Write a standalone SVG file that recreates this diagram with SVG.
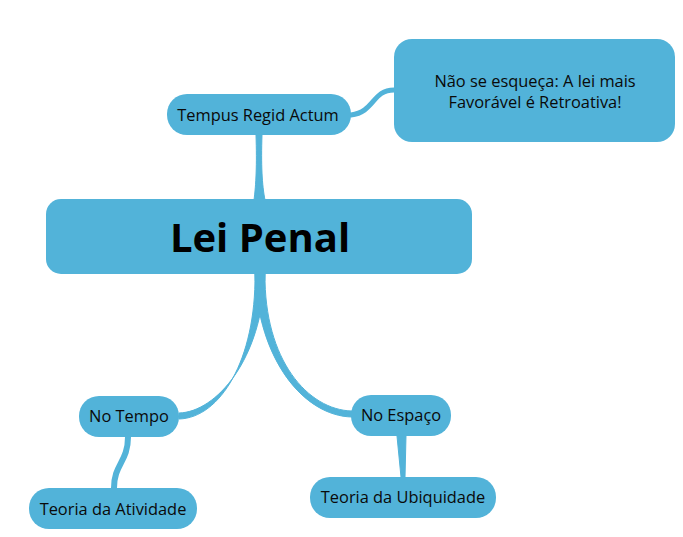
<svg xmlns="http://www.w3.org/2000/svg" width="683" height="537" viewBox="0 0 683 537">
<style>
.n{fill:#52b3d9}
.c{fill:#52b3d9;stroke:#52b3d9;stroke-linecap:round;stroke-linejoin:round}
.s{fill:none;stroke:#52b3d9;stroke-linecap:round}
text{font-family:"Open Sans","Noto Sans",sans-serif;fill:#0a0a0a;text-anchor:middle;font-size:16.4px}
.t{font-size:40px;font-weight:bold;fill:#000}
</style>
<rect width="683" height="537" fill="#fff"/>
<g id="connectors">
<path class="c" stroke-width="1" d="M256,135 C257,165 256,185 254,200 L265,200 C262,185 261,165 262,135 Z"/>
<path class="s" stroke-width="5" d="M351,115 C375,112 372,90 394,90"/>
<path class="c" stroke-width="1" d="M255,274 C256,360 220,418 179,419 L179,413 C216,412 262,360 265,274 Z"/>
<path class="c" stroke-width="1" d="M255,274 C258,360 304,416 352,417 L352,411 C308,410 264,360 265,274 Z"/>
<path class="s" stroke-width="6" d="M128,437 C128,462 114,464 114,488"/>
<path class="c" stroke-width="1" d="M397,436 L401,477 L405,477 L406,436 Z"/>
</g>
<g id="note">
<rect class="n" x="394" y="39" width="281" height="103" rx="18"/>
<text x="535" y="87">Não se esqueça: A lei mais</text>
<text x="535" y="108">Favorável é Retroativa!</text>
</g>
<g id="tempus">
<rect class="n" x="167" y="94" width="184" height="41" rx="20"/>
<text x="258" y="121">Tempus Regid Actum</text>
</g>
<g id="lei-penal">
<rect class="n" x="46" y="199" width="426" height="75" rx="15"/>
<text class="t" x="260" y="252">Lei Penal</text>
</g>
<g id="no-tempo">
<rect class="n" x="79" y="396" width="100" height="41" rx="20"/>
<text x="129" y="422">No Tempo</text>
</g>
<g id="no-espaco">
<rect class="n" x="351" y="395" width="100" height="41" rx="20"/>
<text x="401" y="421">No Espaço</text>
</g>
<g id="teoria-atividade">
<rect class="n" x="29" y="488" width="168" height="41" rx="20"/>
<text x="113" y="515">Teoria da Atividade</text>
</g>
<g id="teoria-ubiquidade">
<rect class="n" x="310" y="477" width="186" height="41" rx="20"/>
<text x="403" y="503">Teoria da Ubiquidade</text>
</g>
</svg>
